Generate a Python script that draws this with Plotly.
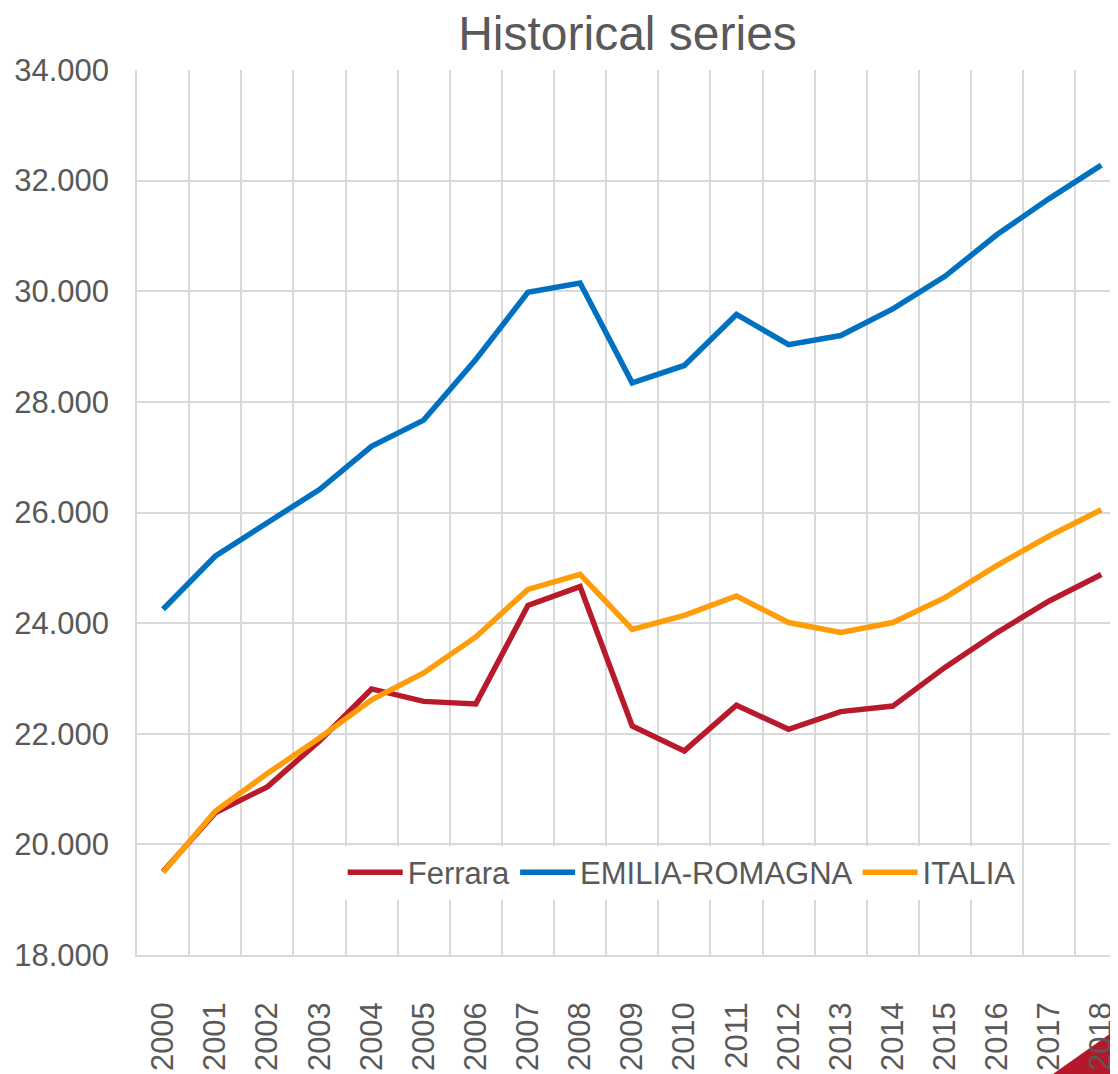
import plotly.graph_objects as go

years = [str(y) for y in range(2000, 2019)]
ferrara = [19510, 20570, 21040, 21870, 22810, 22585, 22540, 24320, 24660, 22140,
           21690, 22515, 22080, 22400, 22500, 23200, 23830, 24400, 24880]
emilia = [24250, 25210, 25815, 26415, 27195, 27670, 28765, 29980, 30150, 28345,
          28658, 29580, 29035, 29200, 29680, 30270, 31025, 31675, 32280]
italia = [19490, 20600, 21280, 21925, 22615, 23100, 23750, 24610, 24880, 23885,
          24140, 24490, 24010, 23830, 24010, 24460, 25045, 25575, 26050]

series = [("Ferrara", ferrara, "#B81A2B"),
          ("EMILIA-ROMAGNA", emilia, "#0070C0"),
          ("ITALIA", italia, "#FF9C0A")]

FONT = "Liberation Sans, Arial, sans-serif"
GREY = "#595959"
GRID = "#D9D9D9"

fig = go.Figure()
for name, vals, col in series:
    fig.add_trace(go.Scatter(x=years, y=vals, name=name, mode="lines",
                             line=dict(color=col, width=5.5)))

# page body has an 8px margin, so the figure is sized/offset to compensate
fig.update_layout(
    width=1110, height=1066,
    margin=dict(l=129, r=0, t=62, b=119, autoexpand=False),
    paper_bgcolor="white", plot_bgcolor="white",
    separators=",.",
    font=dict(family=FONT, color=GREY, size=31),
    title=dict(text="Historical series", x=0.5, xref="paper", xanchor="center",
               y=1 - 25 / 1066, yref="container", yanchor="middle",
               font=dict(size=48, color=GREY, family=FONT)),
    showlegend=True,
    legend=dict(orientation="h", x=0.2097, xanchor="left", y=0.093, yanchor="middle",
                bgcolor="white", font=dict(size=31, color=GREY, family=FONT),
                itemwidth=55, borderwidth=0),
    xaxis=dict(type="category", range=[-0.5, 18.32], tickson="boundaries",
               showgrid=True, gridcolor=GRID, gridwidth=1.5,
               showline=True, linecolor=GRID, linewidth=1.5,
               tickangle=-90, ticks="", zeroline=False,
               ticklabelstandoff=33, automargin=False,
               tickfont=dict(size=31, color=GREY, family=FONT)),
    yaxis=dict(range=[18000, 34000], dtick=2000, tick0=18000, tickformat=",d",
               showgrid=True, gridcolor=GRID, gridwidth=1.5,
               showline=True, linecolor=GRID, linewidth=1.5,
               ticks="", zeroline=False, automargin=False,
               ticklabelstandoff=20,
               tickfont=dict(size=31, color=GREY, family=FONT)),
)

# decorative corner triangle (bottom-right), beneath the tick labels
fig.add_shape(type="path", xref="paper", yref="paper", layer="below",
              path="M 0.9337 -0.1345 L 1.0 -0.0825 L 1.0 -0.1345 Z",
              fillcolor="#B5182B", line=dict(width=0))

fig.write_html("out.html")
